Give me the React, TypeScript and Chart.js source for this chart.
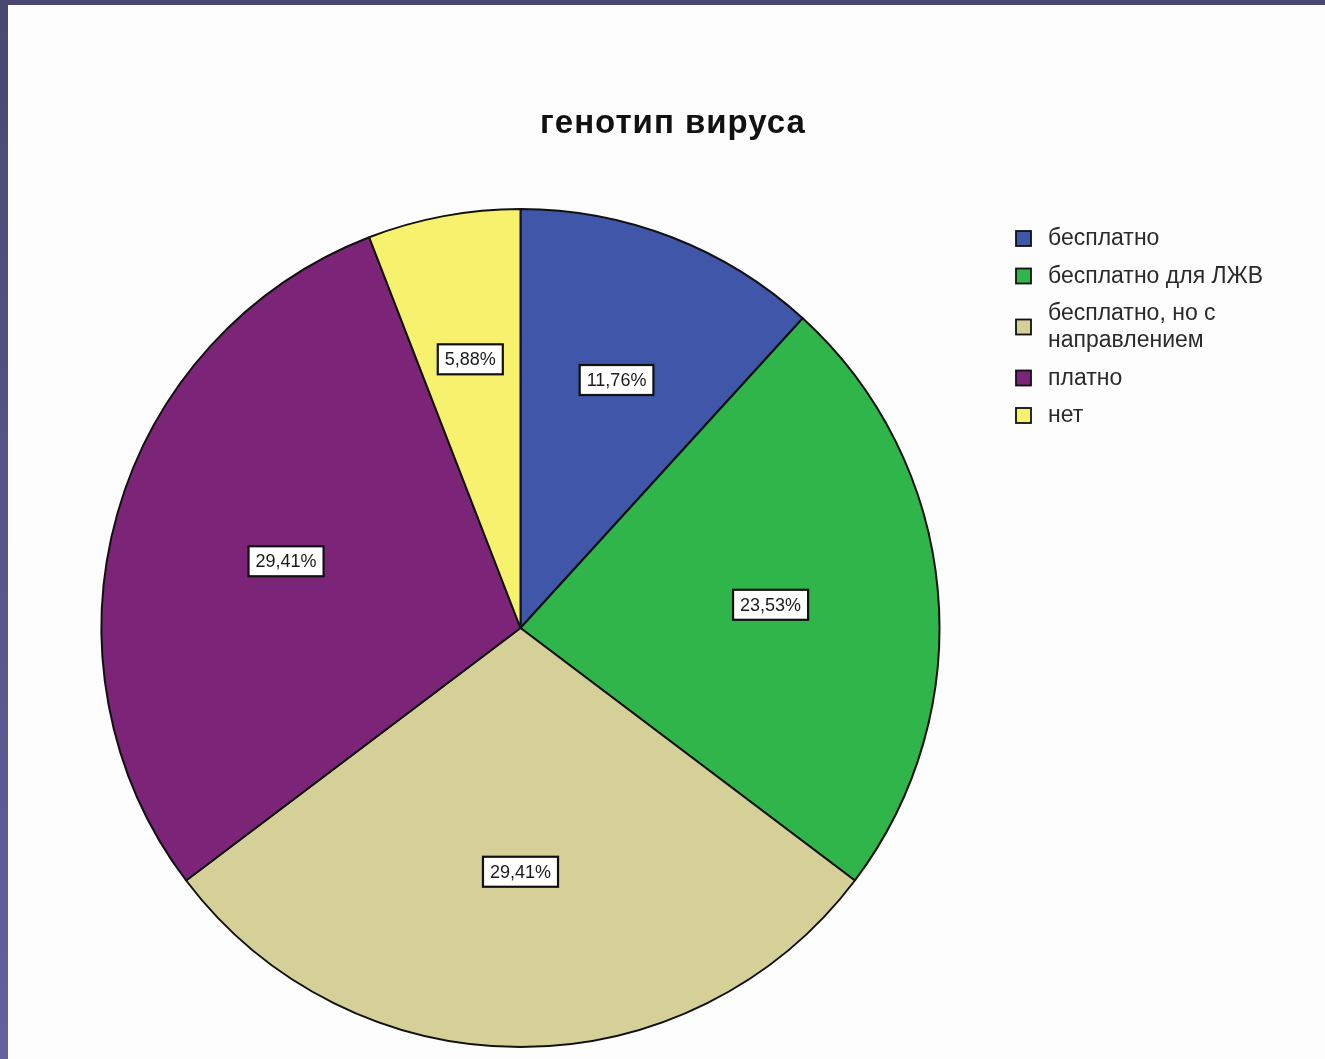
import React, { useEffect, useRef } from "react";
import { Chart, registerables } from "chart.js";

Chart.register(...registerables);

const TITLE = "генотип вируса";
const categories = [
  "бесплатно",
  "бесплатно для ЛЖВ",
  "бесплатно, но с\nнаправлением",
  "платно",
  "нет",
];
const percentValues = [11.76, 23.53, 29.41, 29.41, 5.88];
const sliceColors = ["#3f56a9", "#30b54a", "#d5cf98", "#7c2578", "#f6f26e"];

const FONT = "'Liberation Sans', Arial, sans-serif";

const titlePlugin = {
  id: "spssTitle",
  afterDraw(chart: any) {
    const ctx = chart.ctx;
    ctx.save();
    ctx.font = `bold 33px ${FONT}`;
    (ctx as any).letterSpacing = "1px";
    ctx.fillStyle = "#111";
    ctx.textAlign = "center";
    ctx.textBaseline = "alphabetic";
    ctx.fillText(TITLE, 665, 128);
    ctx.restore();
  },
};

const legendPlugin = {
  id: "spssLegend",
  afterDraw(chart: any) {
    const ctx = chart.ctx;
    const boxX = 1008;
    const textX = 1040;
    const lineH = 27;
    const gap = 37.5;
    let y = 233;
    ctx.save();
    ctx.font = `23px ${FONT}`;
    ctx.textBaseline = "middle";
    ctx.textAlign = "left";
    categories.forEach((label, i) => {
      const lines = label.split("\n");
      const center = y + ((lines.length - 1) * lineH) / 2;
      ctx.fillStyle = sliceColors[i];
      ctx.fillRect(boxX, center - 7, 15, 15);
      ctx.lineWidth = 1.8;
      ctx.strokeStyle = "#111";
      ctx.strokeRect(boxX, center - 7, 15, 15);
      ctx.fillStyle = "#2a2a2a";
      lines.forEach((ln, k) => ctx.fillText(ln, textX, y + k * lineH + 1));
      y += (lines.length - 1) * lineH + gap;
    });
    ctx.restore();
  },
};

const valueLabelPlugin = {
  id: "spssValueLabels",
  afterDatasetsDraw(chart: any) {
    const ctx = chart.ctx;
    const meta = chart.getDatasetMeta(0);
    const data = chart.data.datasets[0].data as number[];
    const total = data.reduce((a, b) => a + b, 0);
    ctx.save();
    ctx.font = `18px ${FONT}`;
    ctx.textAlign = "center";
    ctx.textBaseline = "middle";
    meta.data.forEach((arc: any, i: number) => {
      const { x, y, startAngle, endAngle, outerRadius } = arc.getProps(
        ["x", "y", "startAngle", "endAngle", "outerRadius"],
        true
      );
      const share = data[i] / total;
      const frac = 0.67 - 0.3 * share;
      const mid = (startAngle + endAngle) / 2;
      const cx = x + Math.cos(mid) * outerRadius * frac;
      const cy = y + Math.sin(mid) * outerRadius * frac;
      const text = data[i].toFixed(2).replace(".", ",") + "%";
      const w = ctx.measureText(text).width + 14;
      const h = 30;
      ctx.fillStyle = "#ffffff";
      ctx.fillRect(cx - w / 2, cy - h / 2, w, h);
      ctx.lineWidth = 2.2;
      ctx.strokeStyle = "#111";
      ctx.strokeRect(cx - w / 2, cy - h / 2, w, h);
      ctx.fillStyle = "#1a1a1a";
      ctx.fillText(text, cx, cy + 1);
    });
    ctx.restore();
  },
};

export default function App() {
  const canvasRef = useRef<HTMLCanvasElement | null>(null);

  useEffect(() => {
    if (!canvasRef.current) return;
    const chart = new Chart(canvasRef.current, {
      type: "pie",
      data: {
        labels: categories,
        datasets: [
          {
            data: percentValues,
            backgroundColor: sliceColors,
            borderColor: "#111",
            borderWidth: 2,
          },
        ],
      },
      options: {
        responsive: false,
        animation: false,
        radius: 419,
        layout: { padding: { left: 93, right: 385, top: 203, bottom: 11 } },
        plugins: {
          legend: { display: false },
          title: { display: false },
          tooltip: { enabled: false },
        },
      } as any,
      plugins: [titlePlugin, legendPlugin, valueLabelPlugin],
    });
    return () => chart.destroy();
  }, []);

  return (
    <div style={{ position: "fixed", inset: 0, background: "#4a4870", overflow: "hidden" }}>
      <div
        style={{
          position: "absolute",
          left: 0,
          top: 0,
          bottom: 0,
          width: 8,
          background: "linear-gradient(#4a4870, #56548a 50%, #63619b)",
        }}
      />
      <div
        style={{
          position: "absolute",
          left: 8,
          top: 5,
          right: 0,
          bottom: 0,
          background: "#fdfdfd",
        }}
      >
        <canvas ref={canvasRef} width={1317} height={1054} style={{ display: "block" }} />
      </div>
    </div>
  );
}
